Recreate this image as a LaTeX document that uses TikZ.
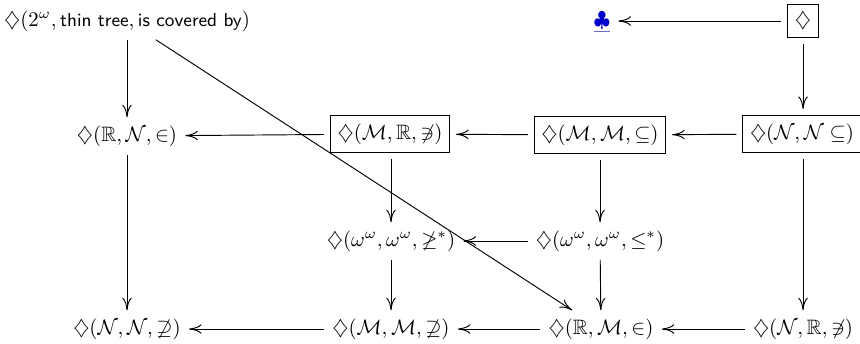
\documentclass[tikz,border=0pt]{standalone}
\usepackage{amssymb}
\usetikzlibrary{arrows.meta}
\newcommand{\sftext}[1]{\mbox{\fontsize{9}{10}\selectfont\sffamily #1}}
\begin{document}
\begin{tikzpicture}[x=0.48pt,y=-0.48pt,
  every node/.style={inner sep=0pt, outer sep=4pt},
  boxed/.style={draw, line width=0.5pt, inner xsep=3.5pt, inner ysep=4pt, outer sep=3pt, minimum height=15pt},
  arr/.style={line width=0.45pt, -{To[length=6pt,width=4.6pt]}}]
\useasboundingbox (0,0) rectangle (860,344);
\node (t) at (127,21) {$\diamondsuit(2^\omega,\sftext{thin tree},\sftext{is covered by})$};
\node (club) at (602,21) {\color[rgb]{0,0,0.8}$\clubsuit$};
\draw[color={rgb,255:red,110;green,110;blue,200}, line width=0.45pt] ([yshift=-2pt,xshift=-4pt]club.base) -- ([yshift=-2pt,xshift=4pt]club.base);
\node[boxed] (d) at (803,21) {$\diamondsuit$};
\node (a1) at (127,136) {$\diamondsuit(\mathbb{R},\mathcal{N},\in)$};
\node[boxed] (a2) at (390,134) {$\diamondsuit(\mathcal{M},\mathbb{R},\not\ni)$};
\node[boxed] (a3) at (600,135) {$\diamondsuit(\mathcal{M},\mathcal{M},\subseteq)$};
\node[boxed] (a4) at (802,134) {$\diamondsuit(\mathcal{N},\mathcal{N}\subseteq)$};
\node (b2) at (391,241) {$\diamondsuit(\omega^\omega,\omega^\omega,\not\geq^*)$};
\node (b3) at (600,241) {$\diamondsuit(\omega^\omega,\omega^\omega,\leq^*)$};
\node (c1) at (127,329) {$\diamondsuit(\mathcal{N},\mathcal{N},\not\supseteq)$};
\node (c2) at (391,329) {$\diamondsuit(\mathcal{M},\mathcal{M},\not\supseteq)$};
\node (c3) at (601,329) {$\diamondsuit(\mathbb{R},\mathcal{M},\in)$};
\node (c4) at (803,329) {$\diamondsuit(\mathcal{N},\mathbb{R},\not\ni)$};
\draw[arr] (d) -- (club);
\draw[arr] (d) -- (d |- a4.north);
\draw[arr] (t) -- (a1);
\draw[arr] (t) -- (c3);
\draw[arr] (a4) -- (a3);
\draw[arr] (a3) -- (a2);
\draw[arr] (a2) -- (a1);
\draw[arr] (a1) -- (c1);
\draw[arr] (a2.south -| b2) -- (b2);
\draw[arr] (a3) -- (b3);
\draw[arr] (b3) -- (b2);
\draw[arr] (b2) -- (c2);
\draw[arr] (b3) -- (c3);
\draw[arr] (a4.south -| c4) -- (c4);
\draw[arr] (c4) -- (c3);
\draw[arr] (c3) -- (c2);
\draw[arr] (c2) -- (c1);
\end{tikzpicture}
\end{document}
